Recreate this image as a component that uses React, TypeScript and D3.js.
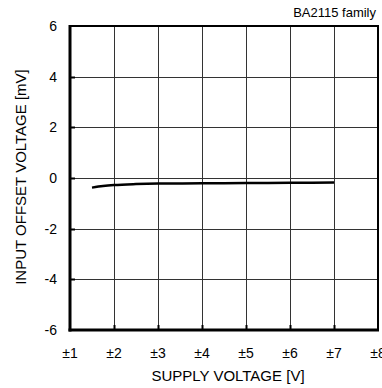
import React, { useEffect, useRef } from 'react';
import * as d3 from 'd3';

// supply voltage (±V) vs input offset voltage (mV)
const supplyVoltage = [1.5, 1.75, 2, 2.5, 3, 4, 5, 6, 7];
const offsetVoltage = [-0.38, -0.32, -0.28, -0.24, -0.22, -0.21, -0.2, -0.19, -0.18];

const xTicks = [1, 2, 3, 4, 5, 6, 7, 8];
const yTicks = [-6, -4, -2, 0, 2, 4, 6];

const FONT = '"Liberation Sans", Arial, sans-serif';

const App: React.FC = () => {
  const svgRef = useRef<SVGSVGElement>(null);

  useEffect(() => {
    if (!svgRef.current) return;
    const svg = d3.select(svgRef.current);
    svg.selectAll('*').remove();

    const left = 70, right = 378, top = 26, bottom = 330;
    const x = d3.scaleLinear().domain([1, 8]).range([left, right]);
    const y = d3.scaleLinear().domain([-6, 6]).range([bottom, top]);
    const crisp = (v: number) => Math.round(v) + 0.5;

    const g = svg.append('g');

    // grid
    g.selectAll('line.vgrid')
      .data(xTicks.slice(1, -1))
      .enter().append('line')
      .attr('x1', d => crisp(x(d))).attr('x2', d => crisp(x(d)))
      .attr('y1', top).attr('y2', bottom)
      .attr('stroke', '#333').attr('stroke-width', 1);

    g.selectAll('line.hgrid')
      .data(yTicks.slice(1, -1))
      .enter().append('line')
      .attr('x1', left).attr('x2', right)
      .attr('y1', d => crisp(y(d))).attr('y2', d => crisp(y(d)))
      .attr('stroke', '#333').attr('stroke-width', 1);

    // small inner ticks
    g.selectAll('line.xtick')
      .data(xTicks.slice(1, -1))
      .enter().append('line')
      .attr('x1', d => crisp(x(d))).attr('x2', d => crisp(x(d)))
      .attr('y1', bottom).attr('y2', bottom - 5)
      .attr('stroke', '#000').attr('stroke-width', 2);

    g.selectAll('line.ytick')
      .data(yTicks.slice(1, -1))
      .enter().append('line')
      .attr('x1', left).attr('x2', left + 5)
      .attr('y1', d => crisp(y(d))).attr('y2', d => crisp(y(d)))
      .attr('stroke', '#000').attr('stroke-width', 2);

    // frame
    g.append('line').attr('x1', left).attr('x2', right + 1).attr('y1', top).attr('y2', top)
      .attr('stroke', '#000').attr('stroke-width', 2);
    g.append('line').attr('x1', right).attr('x2', right).attr('y1', top).attr('y2', bottom)
      .attr('stroke', '#000').attr('stroke-width', 2);
    g.append('line').attr('x1', left).attr('x2', left).attr('y1', top - 1).attr('y2', bottom + 1.5)
      .attr('stroke', '#000').attr('stroke-width', 3);
    g.append('line').attr('x1', left - 1.5).attr('x2', right + 1).attr('y1', bottom).attr('y2', bottom)
      .attr('stroke', '#000').attr('stroke-width', 3);

    // curve
    const line = d3.line<number>()
      .x((d, i) => x(supplyVoltage[i]))
      .y(d => y(d))
      .curve(d3.curveMonotoneX);

    g.append('path')
      .datum(offsetVoltage)
      .attr('d', line)
      .attr('fill', 'none')
      .attr('stroke', '#000')
      .attr('stroke-width', 2.5);

    // tick labels
    g.selectAll('text.xlab')
      .data(xTicks)
      .enter().append('text')
      .attr('x', d => x(d))
      .attr('y', 358)
      .attr('text-anchor', 'middle')
      .style('font-family', FONT)
      .style('font-size', '14px')
      .text(d => `±${d}`);

    g.selectAll('text.ylab')
      .data(yTicks)
      .enter().append('text')
      .attr('x', 57)
      .attr('y', d => y(d) + 5)
      .attr('text-anchor', 'end')
      .style('font-family', FONT)
      .style('font-size', '14px')
      .text(d => `${d}`);

    // axis titles
    g.append('text')
      .attr('x', 228)
      .attr('y', 381)
      .attr('text-anchor', 'middle')
      .style('font-family', FONT)
      .style('font-size', '15px')
      .text('SUPPLY VOLTAGE [V]');

    g.append('text')
      .attr('transform', 'translate(26,177) rotate(-90)')
      .attr('text-anchor', 'middle')
      .style('font-family', FONT)
      .style('font-size', '15px')
      .text('INPUT OFFSET VOLTAGE [mV]');

    g.append('text')
      .attr('x', 376)
      .attr('y', 17)
      .attr('text-anchor', 'end')
      .style('font-family', FONT)
      .style('font-size', '13px')
      .text('BA2115 family');
  }, []);

  return (
    <svg
      ref={svgRef}
      width="382"
      height="388"
      style={{ position: 'absolute', left: 0, top: 0, background: '#fff' }}
    />
  );
};

export default App;
